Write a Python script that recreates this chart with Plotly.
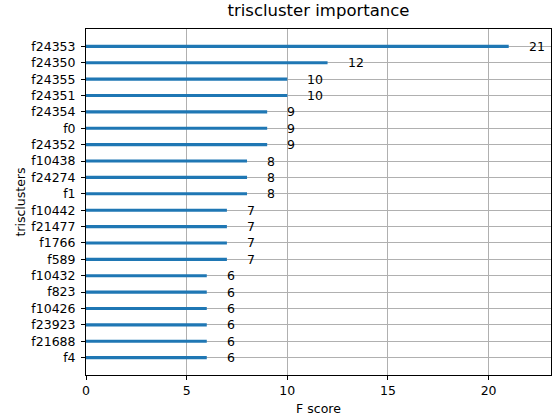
import plotly.graph_objects as go

features = ["f24353", "f24350", "f24355", "f24351", "f24354", "f0", "f24352",
            "f10438", "f24274", "f1", "f10442", "f21477", "f1766", "f589",
            "f10432", "f823", "f10426", "f23923", "f21688", "f4"]
scores = [21, 12, 10, 10, 9, 9, 9, 8, 8, 8, 7, 7, 7, 7, 6, 6, 6, 6, 6, 6]

# matplotlib-like ordering: last feature at bottom
feat_bt = features[::-1]
score_bt = scores[::-1]

FONT = "DejaVu Sans"
FS = 12.5
fig = go.Figure()
fig.add_trace(go.Bar(
    x=score_bt, y=feat_bt, orientation="h", width=0.19,
    marker=dict(color="#1f77b4", line=dict(width=0)),
    hoverinfo="x+y",
))

for f, s in zip(feat_bt, score_bt):
    fig.add_annotation(x=s + 1, y=f, text=str(s), showarrow=False,
                       xanchor="left", yanchor="middle", xshift=-2,
                       font=dict(family=FONT, size=FS, color="#000000"))

axis_common = dict(
    showline=True, linecolor="#000000", linewidth=1, mirror=True,
    ticks="outside", ticklen=4, tickcolor="#000000",
    showgrid=True, gridcolor="#b0b0b0", gridwidth=0.8,
    zeroline=False, automargin=False,
    tickfont=dict(family=FONT, size=FS, color="#000000"),
)

fig.update_layout(
    width=556, height=418,
    margin=dict(l=86, r=5, t=29, b=43),
    paper_bgcolor="white", plot_bgcolor="white",
    showlegend=False,
    title=dict(text="triscluster importance", xref="paper", x=0.5, xanchor="center",
               yref="container", y=0.99, yanchor="top",
               font=dict(family=FONT, size=16.5, color="#000000")),
    xaxis=dict(range=[0, 23.1], tickvals=[0, 5, 10, 15, 20],
               title=dict(text="F score", standoff=7,
                          font=dict(family=FONT, size=FS, color="#000000")),
               **axis_common),
    yaxis=dict(type="category", categoryorder="array", categoryarray=feat_bt,
               range=[-1.06, 20.06], ticklabelstandoff=3,
               title=dict(text="trisclusters", standoff=2,
                          font=dict(family=FONT, size=FS, color="#000000")),
               **axis_common),
)

fig.write_html("out.html", config={"displayModeBar": False},
               post_script="document.body.style.margin='0';document.body.style.overflow='hidden';")
